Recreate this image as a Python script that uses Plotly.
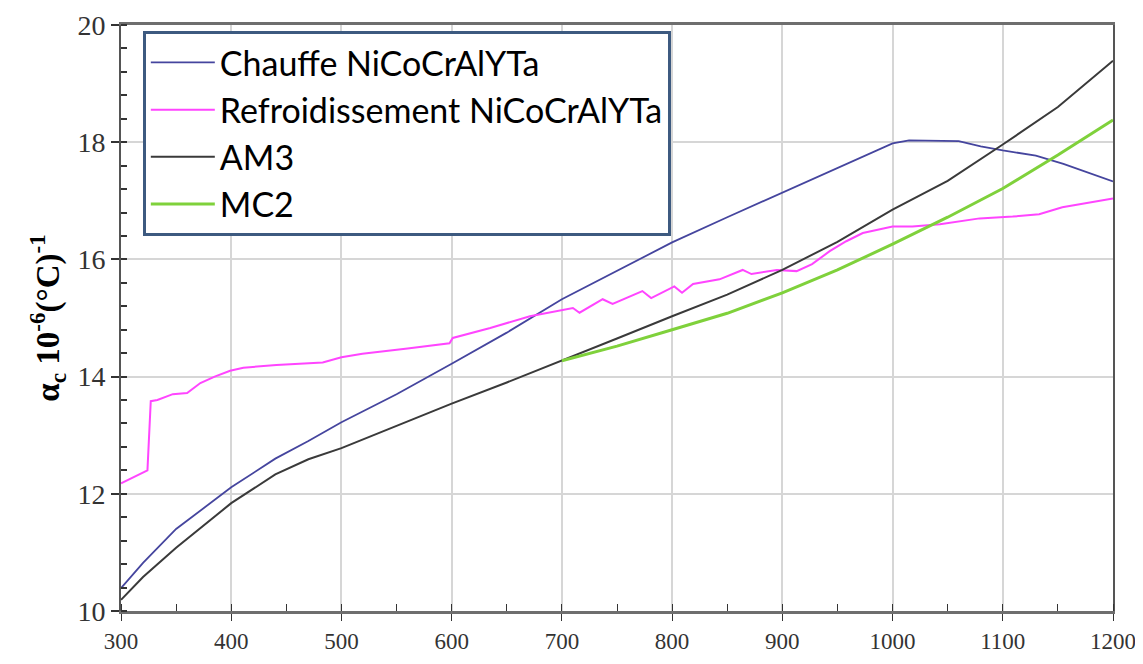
import plotly.graph_objects as go

# Chauffe NiCoCrAlYTa (heating)
chauffe_x = [300, 320, 350, 400, 440, 470, 500, 550, 600, 650, 700, 750, 800, 850, 900,
             950, 1000, 1015, 1060, 1080, 1100, 1130, 1155, 1200]
chauffe_y = [10.39, 10.82, 11.40, 12.11, 12.60, 12.90, 13.22, 13.70, 14.22, 14.75, 15.32,
             15.80, 16.29, 16.72, 17.14, 17.56, 17.98, 18.03, 18.02, 17.93, 17.86, 17.77,
             17.63, 17.33]

# Refroidissement NiCoCrAlYTa (cooling)
refroid_x = [300, 324, 327, 333, 347, 360, 372, 385, 399, 411, 441, 483, 500, 519, 560,
             598, 601, 635, 671, 698, 710, 716, 737, 746, 773, 781, 802, 809, 819, 843,
             864, 872, 895, 913, 927, 943, 958, 973, 1000, 1018, 1043, 1079, 1109, 1133,
             1154, 1200]
refroid_y = [12.18, 12.40, 13.58, 13.60, 13.70, 13.72, 13.89, 14.00, 14.10, 14.15, 14.20,
             14.24, 14.33, 14.39, 14.48, 14.57, 14.66, 14.83, 15.03, 15.12, 15.17, 15.09,
             15.32, 15.24, 15.46, 15.34, 15.54, 15.43, 15.58, 15.66, 15.82, 15.75, 15.82,
             15.80, 15.92, 16.14, 16.31, 16.45, 16.56, 16.56, 16.60, 16.70, 16.73, 16.77,
             16.89, 17.04]

# AM3
am3_x = [300, 320, 350, 400, 440, 470, 500, 550, 600, 650, 700, 750, 800, 850, 900, 950,
         1000, 1050, 1100, 1150, 1200]
am3_y = [10.19, 10.58, 11.08, 11.84, 12.33, 12.59, 12.78, 13.16, 13.54, 13.90, 14.27, 14.65,
         15.03, 15.40, 15.82, 16.30, 16.85, 17.34, 17.96, 18.60, 19.39]

# MC2
mc2_x = [700, 750, 800, 850, 900, 950, 1000, 1050, 1100, 1150, 1200]
mc2_y = [14.27, 14.52, 14.80, 15.08, 15.43, 15.82, 16.26, 16.72, 17.21, 17.78, 18.38]

series = [
    ("Chauffe NiCoCrAlYTa", chauffe_x, chauffe_y, "#45459e", 1.8),
    ("Refroidissement NiCoCrAlYTa", refroid_x, refroid_y, "#ff45ff", 2),
    ("AM3", am3_x, am3_y, "#3a3a3a", 2),
    ("MC2", mc2_x, mc2_y, "#7fd13b", 3),
]

fig = go.Figure()
for name, xs, ys, col, w in series:
    fig.add_trace(go.Scatter(x=xs, y=ys, mode="lines", name=name,
                             line=dict(color=col, width=w)))

# page body has an 8px margin, so the figure is a bit smaller than the window
fig.update_layout(
    width=1135, height=656,
    paper_bgcolor="white", plot_bgcolor="white",
    margin=dict(l=113, r=30, t=17, b=53),
    showlegend=True,
    legend=dict(
        x=0.022, y=0.99, xanchor="left", yanchor="top",
        bgcolor="white", bordercolor="#3d5a80", borderwidth=3,
        font=dict(family="Lato", size=34, color="black"),
        itemwidth=64,
    ),
)

fig.update_xaxes(
    range=[300, 1200], dtick=100, tick0=300, automargin=False,
    ticklabeloverflow="allow",
    showgrid=True, gridcolor="#d6d6d6", gridwidth=1.5,
    showline=True, linecolor="#6e6e6e", linewidth=3, mirror=True,
    ticks="outside", ticklen=7, tickcolor="#333", tickwidth=1,
    minor=dict(dtick=50, ticks="inside", ticklen=7, tickcolor="#333", showgrid=False),
    tickfont=dict(family="Liberation Serif", size=23, color="#333"),
    zeroline=False,
)
fig.update_yaxes(
    range=[10, 20], dtick=2, automargin=False,
    ticklabeloverflow="allow",
    showgrid=True, gridcolor="#d6d6d6", gridwidth=2,
    showline=True, linecolor="#555", linewidth=2, mirror=True,
    ticks="outside", ticklen=8, tickcolor="#333", tickwidth=2,
    minor=dict(dtick=0.4, ticks="inside", ticklen=6, tickcolor="#333", showgrid=False),
    tickfont=dict(family="Liberation Serif", size=28, color="#333"),
    title=dict(text="<b>α<sub>c</sub> 10<sup>-6</sup>(°C)<sup>-1</sup></b>",
               font=dict(family="Liberation Serif", size=33, color="black"),
               standoff=8),
    zeroline=False,
)

fig.write_html("out.html")
